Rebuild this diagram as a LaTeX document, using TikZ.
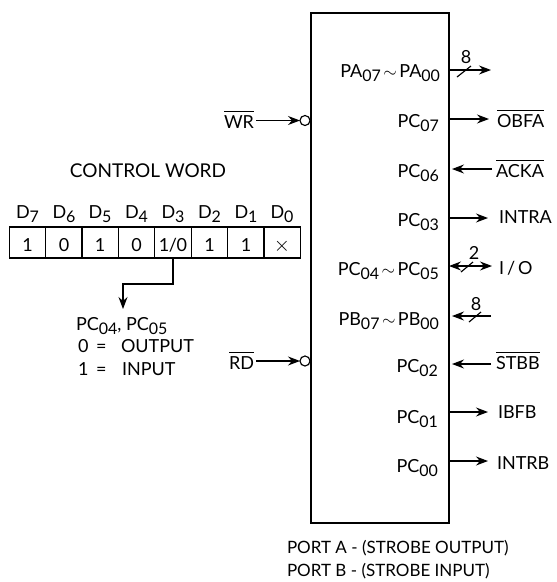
\documentclass[tikz,border=0pt]{standalone}
\usepackage{fontspec}
\setmainfont{Lato}
\usetikzlibrary{arrows.meta}
\newcommand\subd[1]{\raisebox{-4pt}{\fontsize{16}{16}\selectfont #1}}
\newcommand\ovl[1]{\ensuremath{\overline{\hbox{\rule{0pt}{15pt}#1}}}}
\newcommand\onezero{1\kern-.5pt/\kern-.5pt0}
\newcommand\timesx{\fontsize{20}{20}\selectfont$\times$}
\newcommand\tildesep{\kern2.5pt$\sim$\kern2.5pt}
\tikzset{
  x=1pt,y=-1pt,
  wire/.style={line width=1.15pt,draw=black},
  sig/.style={wire,-{Stealth[length=12pt,width=9pt,inset=4pt]}},
  dsig/.style={wire,{Stealth[length=12pt,width=9pt,inset=4pt]}-{Stealth[length=12pt,width=9pt,inset=4pt]}},
  txt/.style={inner sep=0pt,outer sep=0pt,font=\fontsize{18}{18}\selectfont,text=black},
  pinl/.style={txt,anchor=base east},
  sigl/.style={txt,anchor=base west},
  cell/.style={draw=black,line width=1.15pt,minimum width=36.4pt,minimum height=31pt,inner sep=0pt,outer sep=0pt},
  bit/.style={txt,anchor=base},
  inv/.style={circle,draw=black,line width=1.15pt,fill=white,minimum size=10pt,inner sep=0pt,outer sep=0pt},
  chipbox/.style={draw=black,line width=1.4pt,minimum width=138pt,minimum height=510pt,inner sep=0pt,outer sep=0pt}
}
\begin{document}
\begin{tikzpicture}
\useasboundingbox (0,0) rectangle (557,582);
\path[fill=white] (0,0) rectangle (557,582);
\node[chipbox] (chip) at (380,268) {};
% pin labels
\node[pinl] (pa) at (440,77) {PA\subd{07}\tildesep PA\subd{00}};
\node[pinl] (p7) at (439,127) {PC\subd{07}};
\node[pinl] (p6) at (439,177) {PC\subd{06}};
\node[pinl] (p3) at (439,226) {PC\subd{03}};
\node[pinl] (p45) at (439,275) {PC\subd{04}\tildesep PC\subd{05}};
\node[pinl] (pb) at (439,325) {PB\subd{07}\tildesep PB\subd{00}};
\node[pinl] (p2) at (438,372) {PC\subd{02}};
\node[pinl] (p1) at (438,423) {PC\subd{01}};
\node[pinl] (p0) at (438,472) {PC\subd{00}};
% chip-side points
\coordinate (apa) at (chip.east |- 0,70);
\coordinate (a7) at (chip.east |- 0,119);
\coordinate (a6) at (452,169);
\coordinate (a3) at (chip.east |- 0,218);
\coordinate (a45) at (chip.east |- 0,266);
\coordinate (apb) at (452,316);
\coordinate (a2) at (452,364);
\coordinate (a1) at (chip.east |- 0,412);
\coordinate (a0) at (chip.east |- 0,461);
% free ends
\coordinate (epa) at (491,70);
\coordinate (e7) at (489,119);
\coordinate (e6) at (492,169);
\coordinate (e3) at (488,218);
\coordinate (e45) at (492,266);
\coordinate (epb) at (491,316);
\coordinate (e2) at (491,364);
\coordinate (e1) at (488,412);
\coordinate (e0) at (488,461);
% signal labels
\node[sigl] (obfa) at (497,127) {\ovl{OBFA}};
\node[sigl] (acka) at (496,177) {\ovl{ACKA}};
\node[sigl] (intra) at (499,223) {INTRA};
\node[sigl] (io) at (499,274) {I\,/\,O};
\node[sigl] (stbb) at (496,369) {\ovl{STBB}};
\node[sigl] (ibfb) at (498,418) {IBFB};
\node[sigl] (intrb) at (497,469) {INTRB};
\node[txt] (n8a) at (466,57) {8};
\node[txt] (n2) at (474,253) {2};
\node[txt] (n8b) at (476,304) {8};
% connectors
\draw[sig] (apa) -- (epa);
\draw[sig] (a7) -- (e7);
\draw[sig] (e6) -- (a6);
\draw[sig] (a3) -- (e3);
\draw[dsig] (a45) -- (e45);
\draw[sig] (epb) -- (apb);
\draw[sig] (e2) -- (a2);
\draw[sig] (a1) -- (e1);
\draw[sig] (a0) -- (e0);
% bus slashes
\coordinate (s1a) at (457,77); \coordinate (s1b) at (471,66);
\draw[wire] (s1a) -- (s1b);
\coordinate (s2a) at (461,272); \coordinate (s2b) at (473,262);
\draw[wire] (s2a) -- (s2b);
\coordinate (s3a) at (469,322); \coordinate (s3b) at (481,312);
\draw[wire] (s3a) -- (s3b);
% inputs
\node[inv] (iw) at (305,120.5) {};
\node[inv] (ir) at (305,361) {};
\node[txt,anchor=base east] (wr) at (254,128) {\ovl{WR}};
\node[txt,anchor=base east] (rd) at (254,369) {\ovl{RD}};
\draw[sig] (wr.east |- iw) ++(2,0) -- (iw.west);
\draw[sig] (rd.east |- ir) ++(2,0) -- (ir.west);
% control word
\node[txt,anchor=base,font=\fontsize{19}{19}\selectfont] (cw) at (148,177) {CONTROL WORD};
\foreach \i/\xx/\v in {7/27.5/1,6/64/0,5/100/1,4/136.5/0,3/173/\onezero,2/209.5/1,1/246/1,0/282/\timesx}{
  \node[cell] (c\i) at (\xx,242.5) {};
  \node[bit] (v\i) at (\xx,251) {\v};
  \node[bit] (d\i) at (\xx,218) {D\subd{\i}};
}
\coordinate (bend) at (c3.south |- 0,284);
\coordinate (bend2) at (123,284);
\coordinate (tip) at (123,309);
\draw[sig] (c3.south) -- (bend) -- (bend2) -- (tip);
\node[txt,anchor=base west] (pc) at (76,330) {PC\subd{04}, PC\subd{05}};
\node[txt,anchor=base west] (z0) at (78,352) {0\ \,=};
\node[txt,anchor=base west] (zt) at (121,352) {OUTPUT};
\node[txt,anchor=base west] (o1) at (78,375) {1\ \,=};
\node[txt,anchor=base west] (ot) at (122,375) {INPUT};
% port notes
\node[txt,anchor=base west,font=\fontsize{17}{17}\selectfont] (porta) at (287,553) {PORT A - (STROBE OUTPUT)};
\node[txt,anchor=base west,font=\fontsize{17}{17}\selectfont] (portb) at (287,576) {PORT B - (STROBE INPUT)};
\end{tikzpicture}
\end{document}
